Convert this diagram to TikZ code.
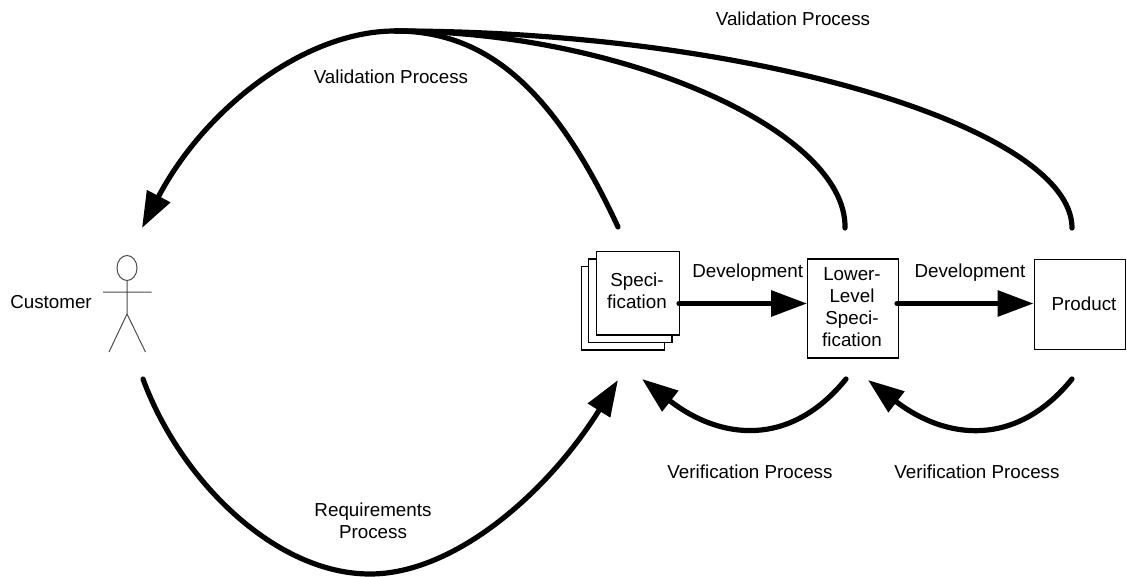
\documentclass[tikz,border=0pt]{standalone}
\usepackage{fontspec}
\setmainfont{Liberation Sans}
\usetikzlibrary{arrows.meta}
\tikzset{
  label text/.style={font=\fontsize{14.1}{16.6}\selectfont,align=center,text=black},
  doc box/.style={draw,line width=1.1pt,fill=white,inner sep=0pt,anchor=north west,label text},
  actor line/.style={draw=black!70,line width=0.75pt},
  flow/.style={line width=3.9pt,line cap=round,-{Triangle[length=27pt,width=19pt]}},
  back flow/.style={line width=3.9pt,line cap=round},
}
\begin{document}
\begin{tikzpicture}[x=0.75pt,y=-0.75pt]
  \useasboundingbox (0,0) rectangle (1127,577);
  % stacked sheets
  \node (sheet3) [doc box,minimum width=62.6pt,minimum height=62.6pt] at (580.5,266) {};
  \node (sheet2) [doc box,minimum width=62.6pt,minimum height=62.6pt] at (588,258.5) {};
  \node (spec) [doc box,minimum width=62.6pt,minimum height=62.6pt] at (595.5,251) {};
  \node (specText) [label text] at (637,291) {Speci-\\fication};
  \node (lower) [doc box,minimum width=68pt,minimum height=74pt] at (807,258.5) {};
  \node (lowerText) [label text] at (852,307) {Lower-\\Level\\Speci-\\fication};
  \node (product) [doc box,minimum width=68.5pt,minimum height=67.5pt] at (1033.5,259) {};
  \node (productText) [label text] at (1084,304) {Product};
  % actor
  \coordinate (neck) at (127,280.5);
  \coordinate (hip) at (127,314);
  \coordinate (armL) at (103,292);
  \coordinate (armR) at (151.5,292);
  \coordinate (legL) at (109,352);
  \coordinate (legR) at (145.5,352);
  \draw[actor line] (127,268) ellipse (10 and 12.5);
  \draw[actor line] (neck) -- (hip) -- (legL) (hip) -- (legR) (armL) -- (armR);
  \node (customer) [label text] at (51,302) {Customer};
  % free ends of the curves
  \coordinate (top) at (395,31);
  \coordinate (custTop) at (142,228);
  \coordinate (custBot) at (143,379);
  \coordinate (specTop) at (618,227);
  \coordinate (specBot) at (618,380);
  \coordinate (specBot2) at (642,379);
  \coordinate (lowerTop) at (845,228);
  \coordinate (lowerBot) at (846,379);
  \coordinate (lowerBot2) at (868,380);
  \coordinate (prodTop) at (1072,228);
  \coordinate (prodBot) at (1072,379);
  \coordinate (specOut) at (679,303.5);
  \coordinate (lowerOut) at (897,303.5);
  % development
  \path[flow]
    (specOut) edge node [above,label text,yshift=11pt,xshift=3.5pt] {Development} (lower.west|-specOut)
    (lowerOut) edge node [above,label text,yshift=11pt,xshift=3.5pt] {Development} (product.west|-lowerOut);
  % validation
  \draw[back flow] (prodTop) .. controls (1072,130) and (760,31) .. (top);
  \draw[back flow] (lowerTop) .. controls (847,130) and (620,31) .. (top);
  \draw[back flow] (specTop) .. controls (550,80) and (480,31) .. (top);
  \draw[flow] (top) .. controls (305,31) and (205,108) .. (custTop);
  \node (valid1) [label text] at (391,77) {Validation Process};
  \node (valid2) [label text] at (793,19) {Validation Process};
  % requirements
  \draw[flow] (custBot) .. controls (180,480) and (275,574) .. (370,574)
    .. controls (455,574) and (548,492) .. (specBot);
  \node (req) [label text] at (373,521) {Requirements\\Process};
  % verification
  \draw[flow] (lowerBot) .. controls (790,448) and (720,440) .. (specBot2);
  \draw[flow] (prodBot) .. controls (1016,448) and (946,440) .. (lowerBot2);
  \node (verif1) [label text] at (750,472) {Verification Process};
  \node (verif2) [label text] at (977,472) {Verification Process};
\end{tikzpicture}
\end{document}
